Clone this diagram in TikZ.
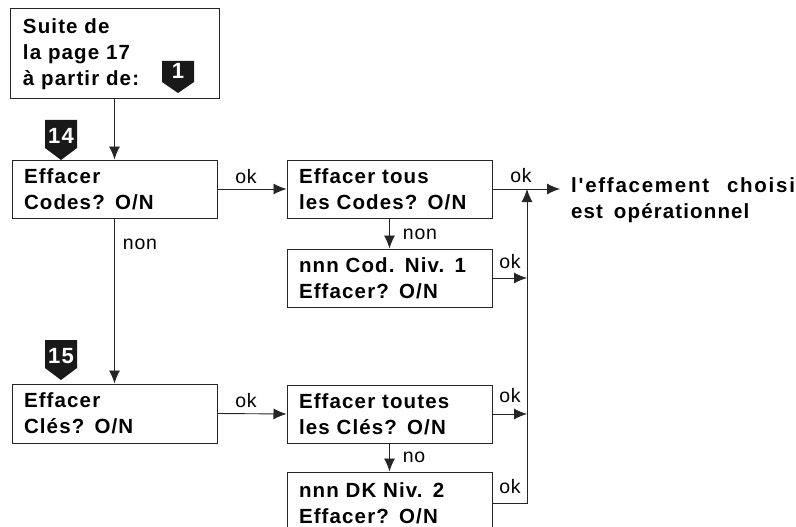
\documentclass[tikz,border=0pt]{standalone}
\usepackage{fontspec}
\setmainfont{Liberation Sans}
\newfontfamily\bx{Liberation Sans}[LetterSpace=5.5,WordSpace=1.6]
\newfontfamily\bxw{Liberation Sans}[LetterSpace=8.5,WordSpace=2.4]
\newfontfamily\lb{Liberation Sans}[LetterSpace=4]
\usetikzlibrary{arrows.meta}
\begin{document}
\begin{tikzpicture}[x=1pt,y=-1pt,
  box/.style={draw=black!85, line width=1pt, minimum width=205pt, minimum height=58pt,
    text width=181pt, align=left, inner sep=0pt, font=\bx\bfseries\fontsize{20.5}{26}\selectfont},
  lbl/.style={font=\lb\fontsize{19.5}{20}\selectfont, inner sep=0pt, anchor=base},
  conn/.style={draw=black!85, line width=0.9pt},
  arr/.style={conn, -{Latex[length=13pt,width=11pt]}},
  badgetxt/.style={text=white, font=\bx\bfseries\fontsize{22}{22}\selectfont, inner sep=0pt}
]
\useasboundingbox (0,0) rectangle (796,527);
\clip (0,0) rectangle (796,527);

% boxes
\node[box, minimum width=209pt, minimum height=90pt, text width=183pt] (A) at (114.5,54)
  {Suite de\\la page 17\\à partir de:};
\node[box] (B) at (114.5,189) {Effacer\\Codes? O/N};
\node[box] (C) at (389.5,189) {Effacer tous\\les Codes? O/N};
\node[box] (D) at (389.5,278) {nnn Cod. Niv. 1\\Effacer? O/N};
\node[box, minimum height=59pt] (E) at (114.5,413.5) {Effacer\\Clés? O/N};
\node[box] (F) at (389.5,414) {Effacer toutes\\les Clés? O/N};
\node[box, minimum height=62pt] (G) at (389.5,503) {nnn DK Niv. 2\\Effacer? O/N};

% result text
\node[font=\bxw\bfseries\fontsize{20.5}{26}\selectfont, inner sep=0pt, anchor=base west] (res) at (571,192) {l'effacement choisi};
\node[font=\bx\bfseries\fontsize{20.5}{26}\selectfont, inner sep=0pt, anchor=base west] (res2) at (571,218) {est opérationnel};

% badges
\fill[black!90] (162,61) -- (194,61) -- (194,82) -- (178,93) -- (162,82) -- cycle;
\node[badgetxt] (b1) at (178,71) {1};
\fill[black!90] (45,120) -- (77,120) -- (77,148) -- (61,160) -- (45,148) -- cycle;
\node[badgetxt] (b14) at (61,136) {14};
\fill[black!90] (45,340) -- (77,340) -- (77,368) -- (61,380) -- (45,368) -- cycle;
\node[badgetxt] (b15) at (61,356) {15};

% junction
\coordinate (j) at (527,189);
\coordinate (resin) at (560,189);

% connectors
\draw[arr] (A.south) -- (B.north);
\draw[arr] (B.south) -- (E.north);
\draw[arr] (B.east) -- (C.west);
\draw[arr] (E.east) -- (F.west);
\draw[arr] (C.south) -- (D.north);
\draw[arr] (F.south) -- (G.north);
\draw[arr] (C.east) -- (resin);
\draw[arr] (D.east) -- (D.east -| j);
\draw[arr] (F.east) -- (F.east -| j);
\draw[arr] (G.east) -- (G.east -| j) -- (j);

% labels
\node[lbl] (l1) at (246,183) {ok};
\node[lbl] (l2) at (140,249) {non};
\node[lbl] (l3) at (521,182) {ok};
\node[lbl] (l4) at (420,239) {non};
\node[lbl] (l5) at (510,268) {ok};
\node[lbl] (l6) at (246,407) {ok};
\node[lbl] (l7) at (510,402) {ok};
\node[lbl] (l8) at (414,462) {no};
\node[lbl] (l9) at (510,493) {ok};
\end{tikzpicture}
\end{document}
